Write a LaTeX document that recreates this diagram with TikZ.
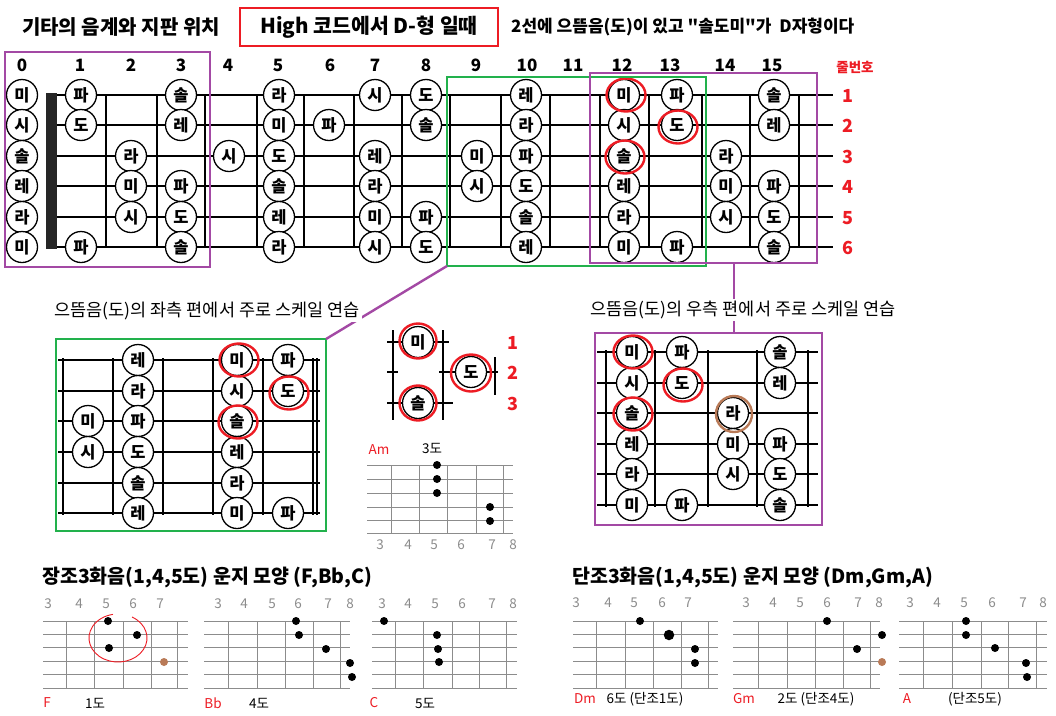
\documentclass[tikz,border=0pt]{standalone}
\usepackage{fontspec}
\setmainfont{Noto Sans CJK KR}
\newfontfamily\plainq{Noto Sans CJK KR}[Ligatures=TeXOff]
\usetikzlibrary{shapes.geometric}
\definecolor{bpurple}{RGB}{163,73,164}
\definecolor{bgreen}{RGB}{34,177,76}
\definecolor{bred}{RGB}{237,28,36}
\definecolor{bbrown}{RGB}{185,122,87}
\definecolor{ngray}{RGB}{140,140,140}
\newcommand\fs[1]{\fontsize{#1}{#1}\selectfont}
\tikzset{
 note/.style={circle, draw, line width=1.3pt, fill=white, minimum size=31pt, inner sep=0pt, font=\bfseries\fs{16.5}},
 hl/.style={ellipse, draw=bred, line width=2.4pt, minimum width=39pt, minimum height=33pt, inner sep=0pt},
 hlb/.style={hl, draw=bbrown},
 str/.style={line width=1.4pt},
 fretl/.style={line width=1.2pt},
 boxn/.style={draw, line width=2.6pt, anchor=north west, inner sep=0pt, outer sep=0pt},
 conn/.style={draw=bpurple, line width=2.4pt},
 fnum/.style={font=\bfseries\fs{17}},
 snum/.style={text=bred, font=\bfseries\fs{18}},
 gridl/.style={draw=black!45, line width=1pt},
 gnum/.style={text=ngray, font=\fs{13.5}},
 dotn/.style={circle, fill=black, inner sep=0pt, minimum size=8pt},
 clab/.style={text=bred, font=\fs{13.5}},
 dlab/.style={font=\fs{13.5}},
}
\begin{document}
\begin{tikzpicture}[x=1pt,y=-1pt]
\useasboundingbox (0,0) rectangle (1056,715);
\fill[white] (0,0) rectangle (1056,715);

% ---------- header ----------
\node[font=\bfseries\fs{20}] (title) at (121,27) {기타의 음계와 지판 위치};
\node[draw=bred, line width=2.6pt, minimum width=258pt, minimum height=38pt, inner sep=0pt, font=\bfseries\fs{20.5}] (hbox) at (369,27) {High 코드에서 D-형 일때};
\node[anchor=west, font=\plainq\bfseries\fs{17}, inner sep=0pt] (desc) at (511,27) {2선에 으뜸음(도)이 있고 "솔도미"가\ \ D자형이다};

% ---------- main fretboard ----------
\def\FX{{22,81,131,181,229,279,329,375,426,477,526,575,624,677,726,774}}
\def\SY{{0,95,125,156,186,217,247}}
\foreach \y in {95,125,156,186,217,247} \draw[str] (57,\y) -- (833,\y);
\foreach \x in {106,157,205,257,304,354,402,450,501,550,600,649,702,750,799} \draw[fretl] (\x,95) -- (\x,247);
\fill[black!85] (46,93) rectangle (57,249);

\foreach \f/\x in {0/22,1/80,2/131,3/181,4/228,5/278,6/330,7/375,8/426,9/476,10/527,11/573,12/622,13/670,14/725,15/772}
  \node[fnum] (fn\f) at (\x,65) {\f};

\foreach \f/\s/\t in {0/1/미,1/1/파,3/1/솔,5/1/라,7/1/시,8/1/도,10/1/레,12/1/미,13/1/파,15/1/솔,
  0/2/시,1/2/도,3/2/레,5/2/미,6/2/파,8/2/솔,10/2/라,12/2/시,13/2/도,15/2/레,
  0/3/솔,2/3/라,4/3/시,5/3/도,7/3/레,9/3/미,10/3/파,12/3/솔,14/3/라,
  0/4/레,2/4/미,3/4/파,5/4/솔,7/4/라,9/4/시,10/4/도,12/4/레,14/4/미,15/4/파,
  0/5/라,2/5/시,3/5/도,5/5/레,7/5/미,8/5/파,10/5/솔,12/5/라,14/5/시,15/5/도,
  0/6/미,1/6/파,3/6/솔,5/6/라,7/6/시,8/6/도,10/6/레,12/6/미,13/6/파,15/6/솔}{
  \pgfmathsetmacro\xx{\FX[\f]}
  \pgfmathsetmacro\yy{\SY[\s]}
  \node[note] (m\s-\f) at (\xx,\yy) {\t};
}
\node[hl] (h1) at ([xshift=2pt]m1-12) {};
\node[hl] (h2) at ([xshift=1pt,yshift=-2pt]m2-13) {};
\node[hl] (h3) at ([xshift=1pt,yshift=-1pt]m3-12) {};

\node[text=bred, font=\bfseries\fs{13.5}] (jul) at (855,67) {줄번호};
\foreach \s in {1,...,6}{
  \pgfmathsetmacro\yy{\SY[\s]}
  \node[snum] (sl\s) at (848,\yy+1) {\s};
}

% boxes on the main fretboard
\node[boxn, draw=bpurple, minimum width=205pt, minimum height=215pt] (pleft) at (5,52) {};
\node[boxn, draw=bgreen, minimum width=259pt, minimum height=189pt] (gbig) at (447,77) {};
\node[boxn, draw=bpurple, minimum width=227pt, minimum height=190pt] (pbig) at (590,73) {};

% ---------- left sub diagram ----------
\node[boxn, draw=bgreen, minimum width=270pt, minimum height=192pt] (gsmall) at (56,339) {};
\foreach \y in {360,391,421,452,483,513} \draw[str] (58,\y) -- (320,\y);
\foreach \x in {63,113,163,213,263,313,317} \draw[fretl] (\x,358) -- (\x,515);
\foreach \x/\y/\t [count=\i] in {88/421/미,88/452/시,
  138/360/레,138/391/라,138/421/파,138/452/도,138/483/솔,138/513/레,
  237/360/미,237/391/시,237/421/솔,237/452/레,237/483/라,237/513/미,
  288/360/파,288/391/도,288/513/파}
  \node[note] (g\i) at (\x,\y) {\t};
\node[hl] (gh1) at ([xshift=2pt]g9) {};
\node[hl] (gh2) at ([xshift=1pt,yshift=-2pt]g16) {};
\node[hl] (gh3) at ([xshift=1pt,yshift=-1pt]g11) {};

% ---------- right sub diagram ----------
\node[boxn, draw=bpurple, minimum width=227pt, minimum height=192pt] (psmall) at (595,333) {};
\foreach \y in {352,383,413,444,474,505} \draw[str] (597,\y) -- (818,\y);
\foreach \x in {606,655,708,757,808} \draw[fretl] (\x,350) -- (\x,507);
\foreach \x/\y/\t [count=\i] in {632/352/미,632/383/시,632/413/솔,632/444/레,632/474/라,632/505/미,
  682/352/파,682/383/도,682/505/파,
  733/413/라,733/444/미,733/474/시,
  780/352/솔,780/383/레,780/444/파,780/474/도,780/505/솔}
  \node[note] (r\i) at (\x,\y) {\t};
\node[hl] (rh1) at ([xshift=1pt]r1) {};
\node[hl] (rh2) at ([xshift=1pt,yshift=-2pt]r8) {};
\node[hl] (rh3) at ([xshift=1pt,yshift=-1pt]r3) {};
\node[hlb, minimum width=36pt, minimum height=36pt] (rh4) at ([xshift=1pt,yshift=-1pt]r10) {};

% connectors
\draw[conn] (gbig.south west) -- (gsmall.north east);
\draw[conn] ([xshift=144pt]pbig.south west) -- ([xshift=139pt]psmall.north west);
\node[fill=white, inner sep=2pt, font=\fs{17.5}] (subl) at (207,311) {으뜸음(도)의 좌측 편에서 주로 스케일 연습};
\node[fill=white, inner sep=2pt, font=\fs{17.5}] (subr) at (743,310) {으뜸음(도)의 우측 편에서 주로 스케일 연습};

% ---------- middle mini diagram ----------
\draw[fretl] (393,330) -- (393,420);
\draw[fretl] (443,330) -- (443,420);
\draw[fretl] (495,357) -- (495,395);
\draw[str] (387,342) -- (449,342);
\draw[str] (387,372) -- (398,372);
\draw[str] (439,372) -- (498,372);
\draw[str] (387,403) -- (453,403);
\node[note] (mm) at (418,342) {미};
\node[note] (md) at (471,372) {도};
\node[note] (ms) at (418,403) {솔};
\node[hl, minimum width=37pt, minimum height=35pt] (mmh) at (418,341) {};
\node[hl, minimum width=40pt, minimum height=37pt] (mdh) at (471,373) {};
\node[hl, minimum width=37pt, minimum height=35pt] (msh) at (418,403) {};
\node[snum] (ml1) at (513,343) {1};
\node[snum] (ml2) at (513,373) {2};
\node[snum] (ml3) at (513,404) {3};

% ---------- Am diagram ----------
\node[clab] (amlab) at (379,450) {Am};
\node[dlab] (amdeg) at (432,448) {3도};
\foreach \y in {465,479,493,507,520,533} \draw[gridl] (367,\y) -- (513,\y);
\foreach \x in {391,419,447,476,503} \draw[gridl] (\x,465) -- (\x,533);
\foreach \x/\t in {380/3,408/4,434/5,461/6,492/7,513/8} \node[gnum] (amn\t) at (\x,545) {\t};
\foreach \x/\y [count=\i] in {437/465,437/479,437/493,490/507,490/521} \node[dotn] (amd\i) at (\x,\y) {};

% ---------- bottom titles ----------
\node[anchor=west, font=\bfseries\fs{19.5}, inner sep=0pt] (maj) at (42,577) {장조3화음(1,4,5도) 운지 모양 (F,Bb,C)};
\node[anchor=west, font=\bfseries\fs{19.5}, inner sep=0pt] (min) at (572,577) {단조3화음(1,4,5도) 운지 모양 (Dm,Gm,A)};

% ---------- bottom chord grids ----------
% F
\foreach \i in {0,...,5} \draw[gridl] (43,621+13.4*\i) -- (188,621+13.4*\i);
\foreach \x in {66,94,123,151,177} \draw[gridl] (\x,621) -- (\x,688);
\foreach \x/\t in {48/3,79/4,106/5,133/6,160/7} \node[gnum] (fn-\t) at (\x,604) {\t};
\foreach \x/\y [count=\i] in {108/621,137/635,109/648} \node[dotn] (fd\i) at (\x,\y) {};
\node[dotn, fill=bbrown] (fd4) at (164,662) {};
\draw[bred, line width=0.9pt] (118,638) ++(299:29 and 24) arc[start angle=299, end angle=620, x radius=29, y radius=24];
\node[clab] (flab) at (47,703) {F};
\node[dlab] (fdeg) at (95,703) {1도};
% Bb
\foreach \i in {0,...,5} \draw[gridl] (204,621+13.4*\i) -- (350,621+13.4*\i);
\foreach \x in {228,257,285,313,340} \draw[gridl] (\x,621) -- (\x,688);
\foreach \x/\t in {218/3,244/4,272/5,298/6,328/7,350/8} \node[gnum] (bn-\t) at (\x,604) {\t};
\foreach \x/\y [count=\i] in {296/621,299/635,326/649,350/663,352/677} \node[dotn] (bd\i) at (\x,\y) {};
\node[clab] (blab) at (213,703) {Bb};
\node[dlab] (bdeg) at (259,703) {4도};
% C
\foreach \i in {0,...,5} \draw[gridl] (372,621+13.4*\i) -- (517,621+13.4*\i);
\foreach \x in {395,423,452,479,506} \draw[gridl] (\x,621) -- (\x,688);
\foreach \x/\t in {382/3,408/4,435/5,462/6,492/7,513/8} \node[gnum] (cn-\t) at (\x,604) {\t};
\foreach \x/\y [count=\i] in {384/621,437/635,438/649,439/662} \node[dotn] (cd\i) at (\x,\y) {};
\node[clab] (clab1) at (374,703) {C};
\node[dlab] (cdeg) at (425,703) {5도};
% Dm
\foreach \i in {0,...,5} \draw[gridl] (573,621+13.4*\i) -- (718,621+13.4*\i);
\foreach \x in {596,625,653,681,708} \draw[gridl] (\x,621) -- (\x,688);
\foreach \x/\t in {576/3,608/4,634/5,662/6,688/7} \node[gnum] (dn-\t) at (\x,603) {\t};
\foreach \x/\y [count=\i] in {640/621,695/649,695/663} \node[dotn] (dd\i) at (\x,\y) {};
\node[dotn, minimum size=10.5pt] (dd4) at (669,635) {};
\node[clab] (dlab1) at (585,699) {Dm};
\node[dlab] (ddeg) at (645,699) {6도 (단조1도)};
% Gm
\foreach \i in {0,...,5} \draw[gridl] (733,621+13.4*\i) -- (880,621+13.4*\i);
\foreach \x in {758,787,815,843,870} \draw[gridl] (\x,621) -- (\x,688);
\foreach \x/\t in {746/3,773/4,800/5,827/6,858/7,879/8} \node[gnum] (gn-\t) at (\x,603) {\t};
\foreach \x/\y [count=\i] in {827/621,882/635,857/649} \node[dotn] (gd\i) at (\x,\y) {};
\node[dotn, fill=bbrown] (gd4) at (882,662) {};
\node[clab] (glab) at (744,699) {Gm};
\node[dlab] (gdeg) at (816,699) {2도 (단조4도)};
% A
\foreach \i in {0,...,5} \draw[gridl] (899,621+13.4*\i) -- (1047,621+13.4*\i);
\foreach \x in {923,952,981,1008,1036} \draw[gridl] (\x,621) -- (\x,688);
\foreach \x/\t in {910/3,937/4,964/5,992/6,1023/7,1043/8} \node[gnum] (an-\t) at (\x,603) {\t};
\foreach \x/\y [count=\i] in {966/621,966/635,995/648,1026/663,1027/677} \node[dotn] (ad\i) at (\x,\y) {};
\node[clab] (alab) at (907,699) {A};
\node[dlab] (adeg) at (975,699) {(단조5도)};
\end{tikzpicture}
\end{document}
